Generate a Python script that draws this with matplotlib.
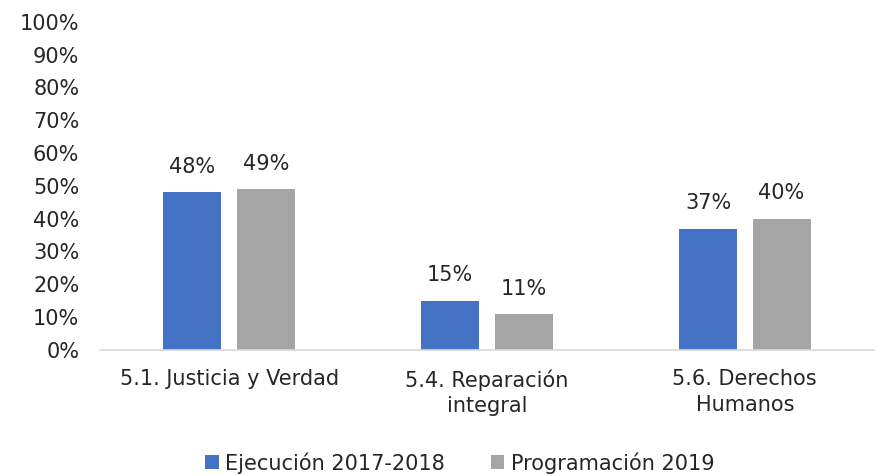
import matplotlib.pyplot as plt
import numpy as np

categorias = ["5.1. Justicia y Verdad", "5.4. Reparación\nintegral", "5.6. Derechos\nHumanos"]
ejecucion = [48, 15, 37]
programacion = [49, 11, 40]
series = ["Ejecución 2017-2018", "Programación 2019"]
colores = ["#4472C4", "#A5A5A5"]

plt.rcParams['font.family'] = ['DejaVu Sans']
texto = "#262626"
fs = 15

fig = plt.figure(figsize=(8.79, 4.76), dpi=100)
ax = fig.add_axes([0.114, 0.265, 0.88, 0.689])

x = np.arange(len(categorias))
ancho = 0.225
desp = ancho / 2 + 0.03

b1 = ax.bar(x - desp, ejecucion, ancho, color=colores[0], label=series[0])
b2 = ax.bar(x + desp, programacion, ancho, color=colores[1], label=series[1])

for barras in (b1, b2):
    for r in barras:
        ax.annotate(f"{r.get_height():.0f}%", (r.get_x() + r.get_width() / 2, r.get_height()),
                    xytext=(0, 11), textcoords="offset points", ha="center", va="bottom",
                    fontsize=fs, color=texto)

ax.set_xlim(-0.5, 2.5)
ax.set_ylim(0, 100)
ax.set_yticks(np.arange(0, 101, 10))
ax.set_yticklabels([f"{v}%" for v in range(0, 101, 10)])
ax.set_xticks(x)
ax.set_xticklabels(categorias, linespacing=1.35)
ax.tick_params(axis="both", length=0, labelsize=fs, colors=texto)
ax.tick_params(axis="x", pad=14)
ax.tick_params(axis="y", pad=15)

for s in ("top", "right", "left"):
    ax.spines[s].set_visible(False)
ax.spines["bottom"].set_color("#D9D9D9")
ax.spines["bottom"].set_linewidth(1.2)

ax.legend(loc="center", bbox_to_anchor=(0.465, -0.345), ncol=2, frameon=False,
          fontsize=fs, handlelength=0.65, handleheight=0.65, handletextpad=0.3,
          columnspacing=2.2, labelcolor=texto)

fig.savefig("out.png", dpi=100)
